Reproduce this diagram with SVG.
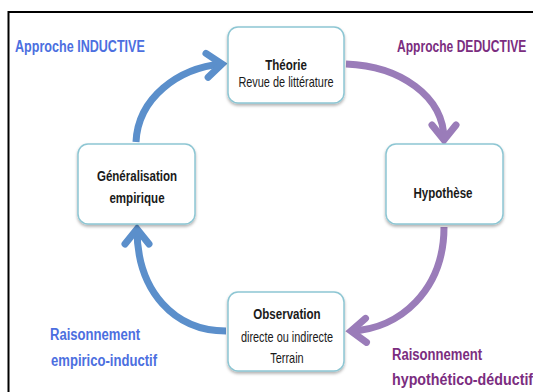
<svg xmlns="http://www.w3.org/2000/svg" width="533" height="392" viewBox="0 0 533 392">
<defs>
<filter id="sh" x="-20%" y="-20%" width="140%" height="150%">
<feDropShadow dx="0" dy="2" stdDeviation="1.8" flood-color="#000" flood-opacity="0.3"/>
</filter>
<marker id="ab" markerUnits="userSpaceOnUse" markerWidth="40" markerHeight="40" viewBox="-25 -20 40 40" refX="0" refY="0" orient="auto" overflow="visible">
<path d="M-15,-12 L0,0 L-15,12" fill="none" stroke="#5b8fcb" stroke-width="7" stroke-linecap="round" stroke-linejoin="miter"/>
</marker>
<marker id="ap" markerUnits="userSpaceOnUse" markerWidth="40" markerHeight="40" viewBox="-25 -20 40 40" refX="0" refY="0" orient="auto" overflow="visible">
<path d="M-15,-12 L0,0 L-15,12" fill="none" stroke="#9a7cb9" stroke-width="7" stroke-linecap="round" stroke-linejoin="miter"/>
</marker>
</defs>
<style>
.box{fill:#fff;stroke:#8dc6d3;stroke-width:1.5;filter:url(#sh)}
.t{font-family:"Liberation Sans",Arial,sans-serif;text-anchor:middle;fill:#1a1a1a}
.b{font-weight:bold;font-size:15px}
.n{font-size:14px}
.lab{font-family:"Liberation Sans",Arial,sans-serif;font-weight:bold;font-size:17px}
.blue{fill:#4c6fe0}
.purple{fill:#7b2d80}
.cb{fill:none;stroke:#5b8fcb;stroke-width:7;marker-end:url(#ab)}
.cp{fill:none;stroke:#9a7cb9;stroke-width:7;marker-end:url(#ap)}
</style>
<rect width="533" height="392" fill="#fff"/>
<path d="M8.5,392 V12 H533" fill="none" stroke="#000" stroke-width="2"/>

<g id="connectors">
<path class="cb" d="M136,142 C138,98 178,68 222,64"/>
<path class="cp" d="M346,64 C400,66 444,96 444,140"/>
<path class="cp" d="M444,227 C444,290 400,329 351,331"/>
<path class="cb" d="M226,331 C175,331 137,292 137,229"/>
</g>

<g id="theorie">
<rect class="box" x="228" y="27" width="116" height="76" rx="10"/>
<text class="t b" transform="translate(286,70) scale(0.77,1)">Théorie</text>
<text class="t n" transform="translate(286,87) scale(0.78,1)">Revue de littérature</text>
</g>

<g id="generalisation">
<rect class="box" x="78" y="144" width="117" height="80" rx="10"/>
<text class="t b" transform="translate(137,181) scale(0.77,1)">Généralisation</text>
<text class="t b" transform="translate(137,203) scale(0.77,1)">empirique</text>
</g>

<g id="hypothese">
<rect class="box" x="386" y="144" width="117" height="80" rx="10"/>
<text class="t b" transform="translate(443,198) scale(0.77,1)">Hypothèse</text>
</g>

<g id="observation">
<rect class="box" x="228" y="292" width="116" height="79" rx="10"/>
<text class="t b" transform="translate(287,319) scale(0.77,1)">Observation</text>
<text class="t n" transform="translate(287,342) scale(0.78,1)">directe ou indirecte</text>
<text class="t n" transform="translate(287,363) scale(0.78,1)">Terrain</text>
</g>

<g id="labels">
<text class="lab blue" transform="translate(15,52) scale(0.74,1)">Approche INDUCTIVE</text>
<text class="lab purple" transform="translate(397,52) scale(0.71,1)">Approche DEDUCTIVE</text>
<text class="lab blue" transform="translate(50,340) scale(0.77,1)">Raisonnement</text>
<text class="lab blue" transform="translate(51,366) scale(0.77,1)">empirico-inductif</text>
<text class="lab purple" transform="translate(392,360) scale(0.77,1)">Raisonnement</text>
<text class="lab purple" transform="translate(392,385) scale(0.84,1)">hypothético-déductif</text>
</g>
</svg>
